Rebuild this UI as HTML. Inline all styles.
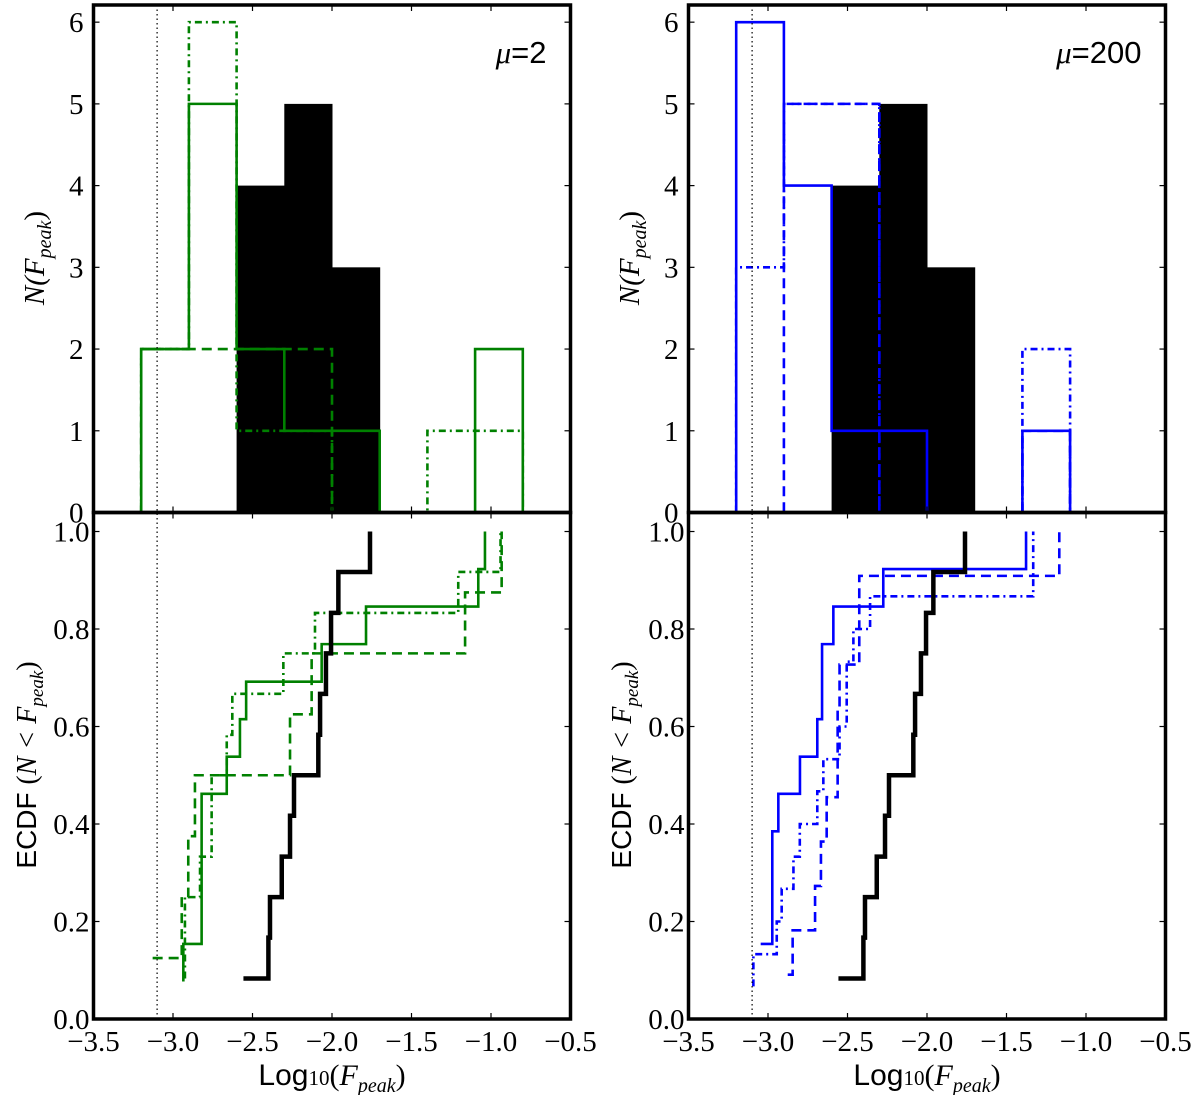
<!DOCTYPE html>
<html><head><meta charset="utf-8"><title>Fpeak histograms and ECDF</title>
<style>
html,body{margin:0;padding:0;background:#fff;}
svg{display:block;}
</style></head>
<body>
<svg id="fig" width="1200" height="1095" viewBox="0 0 1200 1095" xmlns="http://www.w3.org/2000/svg"></svg>
<script>
// ---- data ----
const binEdges = [-3.2,-2.9,-2.6,-2.3,-2.0,-1.7,-1.4,-1.1,-0.8];
const obsCounts = [0,0,4,5,3,0,0,0];
const mu2Solid = [2,5,2,1,1,0,0,2];
const mu2Dashed = [2,2,2,2,0,0,0,0];
const mu2DashDot = [2,6,1,1,0,0,1,1];
const mu200Solid = [6,4,1,1,0,0,1,0];
const mu200Dashed = [0,5,5,0,0,0,1,0];
const mu200DashDot = [3,5,5,0,0,0,2,0];

const obsEcdfX = [-2.557,-2.40,-2.39,-2.316,-2.264,-2.239,-2.086,-2.075,-2.038,-2.006,-1.96,-1.761];
const obsEcdfY = [0.083,0.167,0.25,0.333,0.417,0.5,0.583,0.667,0.75,0.833,0.917,1.0];
const mu2SolidEcdfX = [-2.935,-2.935,-2.82,-2.662,-2.579,-2.54,-2.065,-1.786,-1.08,-1.038];
const mu2SolidEcdfY = [0.077,0.154,0.462,0.538,0.615,0.692,0.769,0.846,0.923,1.0];
const mu2DashedEcdfX = [-3.128,-2.945,-2.904,-2.862,-2.264,-2.128,-1.163,-0.933];
const mu2DashedEcdfY = [0.125,0.25,0.375,0.5,0.625,0.75,0.875,1.0];
const mu2DashDotEcdfX = [-2.925,-2.925,-2.83,-2.757,-2.662,-2.627,-2.306,-2.107,-1.206,-0.94];
const mu2DashDotEcdfY = [0.083,0.25,0.333,0.5,0.583,0.667,0.75,0.833,0.917,1.0];
const mu200SolidEcdfX = [-3.046,-2.973,-2.935,-2.799,-2.69,-2.66,-2.589,-2.275,-1.377];
const mu200SolidEcdfY = [0.154,0.385,0.462,0.538,0.615,0.769,0.846,0.923,1.0];
const mu200DashedEcdfX = [-2.876,-2.845,-2.704,-2.667,-2.631,-2.562,-2.55,-2.426,-1.168];
const mu200DashedEcdfY = [0.091,0.182,0.273,0.364,0.455,0.636,0.727,0.909,1.0];
const mu200DashDotEcdfX = [-3.092,-3.092,-2.945,-2.914,-2.84,-2.8,-2.69,-2.652,-2.55,-2.505,-2.463,-2.358,-1.332];
const mu200DashDotEcdfY = [0.067,0.133,0.2,0.267,0.333,0.4,0.467,0.533,0.6,0.733,0.8,0.867,1.0];

const xTicks = [-3.5,-3.0,-2.5,-2.0,-1.5,-1.0,-0.5];
const xTickLabels = ["\u22123.5","\u22123.0","\u22122.5","\u22122.0","\u22121.5","\u22121.0","\u22120.5"];
const histYTicks = [0,1,2,3,4,5,6];
const ecdfYTicks = [0,0.2,0.4,0.6,0.8,1.0];
const ecdfYTickLabels = ["0.0","0.2","0.4","0.6","0.8","1.0"];
const detectionLimit = -3.1;

// ---- layout ----
const NS = "http://www.w3.org/2000/svg";
const svg = document.getElementById('fig');
const SERIF = '"Liberation Serif", "DejaVu Serif", serif';
const SANS = '"Liberation Sans", "DejaVu Sans", sans-serif';
const XMIN=-3.5, XMAX=-0.5, HTOP=5, HBOT=512.5, EBOT=1019, HYMAX=6.21, EYMAX=1.039;
const panels = [
  {left:93.5, right:570.5, name:'mu-2', color:'#008000', num:'=2',
   hist:[mu2Solid,mu2Dashed,mu2DashDot],
   ecdf:[[mu2SolidEcdfX,mu2SolidEcdfY],[mu2DashedEcdfX,mu2DashedEcdfY],[mu2DashDotEcdfX,mu2DashDotEcdfY]]},
  {left:688.5, right:1165.5, name:'mu-200', color:'#0000ff', num:'=200',
   hist:[mu200Solid,mu200Dashed,mu200DashDot],
   ecdf:[[mu200SolidEcdfX,mu200SolidEcdfY],[mu200DashedEcdfX,mu200DashedEcdfY],[mu200DashDotEcdfX,mu200DashDotEcdfY]]}
];
const dashes = [null,"10,6","7,4,2,4"];
const styleNames = ['solid','dashed','dashdot'];

function el(tag, attrs, parent){
  const e=document.createElementNS(NS,tag);
  for(const k in attrs) e.setAttribute(k,attrs[k]);
  (parent||svg).appendChild(e); return e;
}
function ts(parent, text, attrs){
  const t=el('tspan',attrs||{},parent); t.textContent=text; return t;
}

panels.forEach(p=>{
  const sx = v => p.left + (v-XMIN)/(XMAX-XMIN)*(p.right-p.left);
  const hy = v => HBOT - v/HYMAX*(HBOT-HTOP);
  const ey = v => EBOT - v/EYMAX*(EBOT-HBOT);

  const gh = el('g',{});
  
  
  for(let i=0;i<obsCounts.length;i++){
    if(!obsCounts[i]) continue;
    const r = el('rect',{x:sx(binEdges[i]),y:hy(obsCounts[i]),width:sx(binEdges[i+1])-sx(binEdges[i])+0.5,height:hy(0)-hy(obsCounts[i]),fill:'#000'},gh);
    
    
  }
  p.hist.forEach((counts,si)=>{
    let d = 'M'+sx(binEdges[0])+','+hy(0);
    for(let i=0;i<counts.length;i++){
      d += ' L'+sx(binEdges[i])+','+hy(counts[i])+' L'+sx(binEdges[i+1])+','+hy(counts[i]);
    }
    d += ' L'+sx(binEdges[counts.length])+','+hy(0);
    const a={d:d,fill:'none',stroke:p.color,'stroke-width':2.6};
    if(dashes[si]) a['stroke-dasharray']=dashes[si];
    const path=el('path',a,gh);
    
    
  });

  const ge = el('g',{});
  
  
  function stepPath(xs,ys){
    let d='M'+sx(xs[0])+','+ey(ys[0]);
    for(let i=1;i<xs.length;i++) d+=' L'+sx(xs[i])+','+ey(ys[i-1])+' L'+sx(xs[i])+','+ey(ys[i]);
    return d;
  }
  p.ecdf.forEach((xy,si)=>{
    const a={d:stepPath(xy[0],xy[1]),fill:'none',stroke:p.color,'stroke-width':2.6};
    if(dashes[si]) a['stroke-dasharray']=dashes[si];
    const path=el('path',a,ge);
    
    
  });
  const ob=el('path',{d:stepPath(obsEcdfX,obsEcdfY),fill:'none',stroke:'#000','stroke-width':4.5},ge);
  
  

  const dl=el('line',{x1:sx(detectionLimit),x2:sx(detectionLimit),y1:HTOP,y2:EBOT,stroke:'#000','stroke-width':1.2,'stroke-dasharray':'1.5,3'});
  
  

  [[HTOP,HBOT,'hist'],[HBOT,EBOT,'ecdf']].forEach(f=>{
    const r=el('rect',{x:p.left,y:f[0],width:p.right-p.left,height:f[1]-f[0],fill:'none',stroke:'#000','stroke-width':3.5});
    
    
    xTicks.forEach(t=>{
      el('line',{x1:sx(t),x2:sx(t),y1:f[1],y2:f[1]-6,stroke:'#000','stroke-width':1.2});
      el('line',{x1:sx(t),x2:sx(t),y1:f[0],y2:f[0]+6,stroke:'#000','stroke-width':1.2});
    });
  });
  histYTicks.forEach(t=>{
    el('line',{x1:p.left,x2:p.left+6,y1:hy(t),y2:hy(t),stroke:'#000','stroke-width':1.2});
    el('line',{x1:p.right,x2:p.right-6,y1:hy(t),y2:hy(t),stroke:'#000','stroke-width':1.2});
    const tx=el('text',{x:p.left-10,y:hy(t)+10,'text-anchor':'end','font-family':SERIF,'font-size':29});
    tx.textContent=String(t);
    
    
  });
  ecdfYTicks.forEach((t,i)=>{
    el('line',{x1:p.left,x2:p.left+6,y1:ey(t),y2:ey(t),stroke:'#000','stroke-width':1.2});
    el('line',{x1:p.right,x2:p.right-6,y1:ey(t),y2:ey(t),stroke:'#000','stroke-width':1.2});
    const tx=el('text',{x:p.left-4,y:ey(t)+10,'text-anchor':'end','font-family':SERIF,'font-size':29});
    tx.textContent=ecdfYTickLabels[i];
    
    
  });
  xTicks.forEach((t,i)=>{
    const tx=el('text',{x:sx(t),y:1051,'text-anchor':'middle','font-family':SERIF,'font-size':29});
    tx.textContent=xTickLabels[i];
    
    
  });

  const an=el('text',{x:p.right-24,y:63,'text-anchor':'end','font-family':SANS,'font-size':31});
  ts(an,'\u03bc',{'font-family':SERIF,'font-style':'italic'});
  ts(an,p.num);
  
  

  const off = p.left-93.5;
  const yl1=el('text',{transform:'translate('+(44+off)+',258) rotate(-90)','text-anchor':'middle','font-size':29,'font-family':SERIF,'font-style':'italic'});
  ts(yl1,'N(F'); ts(yl1,'peak',{'font-size':20,dy:7}); ts(yl1,')',{dy:-7,'font-style':'normal'});
  
  
  const yl2=el('text',{transform:'translate('+(36+off)+',765) rotate(-90)','text-anchor':'middle','font-size':28,'font-family':SERIF});
  ts(yl2,'ECDF ',{'font-family':SANS}); ts(yl2,'(',{}); ts(yl2,'N < F',{'font-style':'italic'});
  ts(yl2,'peak',{'font-style':'italic','font-size':19,dy:7}); ts(yl2,')',{dy:-7});
  
  
  const xl=el('text',{x:(p.left+p.right)/2,y:1085,'text-anchor':'middle','font-size':30,'font-family':SERIF});
  ts(xl,'Log',{'font-family':SANS}); ts(xl,'10',{'font-size':21}); ts(xl,'(');
  ts(xl,'F',{'font-style':'italic'}); ts(xl,'peak',{'font-style':'italic','font-size':20,dy:7}); ts(xl,')',{dy:-7});
  
  
});
</script>
</body></html>
